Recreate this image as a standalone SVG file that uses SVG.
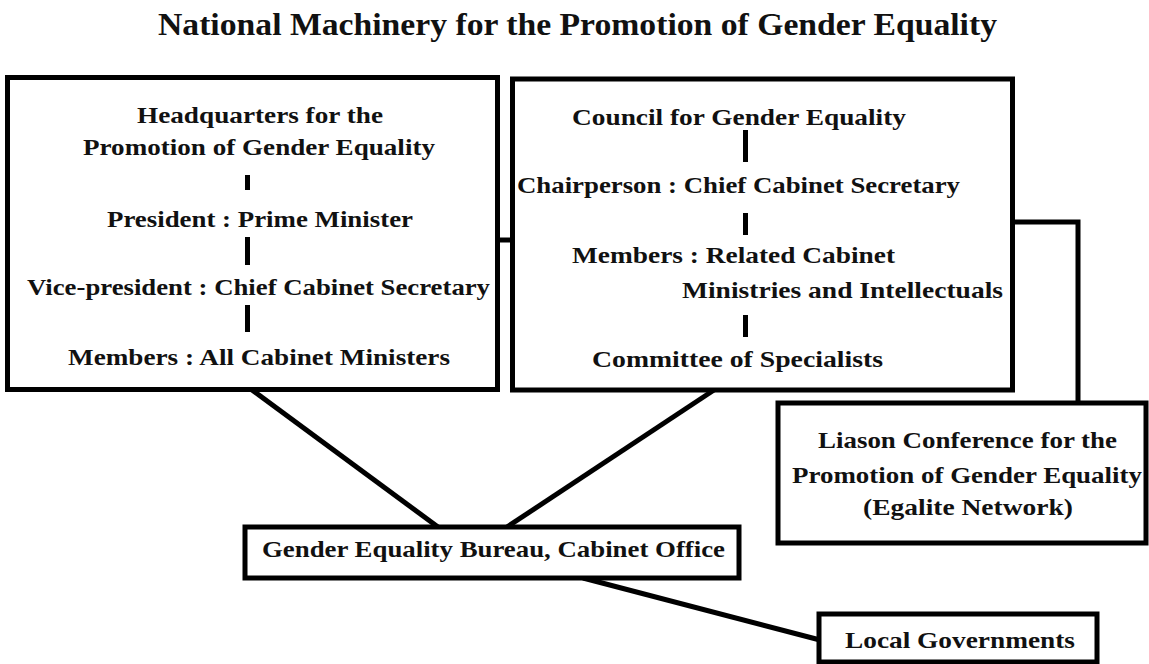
<svg xmlns="http://www.w3.org/2000/svg" width="1149" height="664" viewBox="0 0 1149 664">
  <style>
    .box { fill: #ffffff; stroke: #000000; stroke-width: 5; }
    .link { fill: none; stroke: #000000; stroke-width: 5; stroke-linecap: butt; stroke-linejoin: miter; }
    .bar { fill: #000000; }
    text { font-family: "Liberation Serif", "Times New Roman", serif; font-weight: bold; fill: #111111; }
    .t { font-size: 23px; }
    .title { font-size: 32px; }
  </style>
  <rect width="1149" height="664" fill="#ffffff"/>

  <text class="title" x="158" y="35" textLength="839" lengthAdjust="spacingAndGlyphs">National Machinery for the Promotion of Gender Equality</text>

  <!-- connectors -->
  <g id="connectors">
    <line class="link" x1="498" y1="240" x2="512" y2="240"/>
    <polyline class="link" points="1013,222 1078,222 1078,403"/>
    <line class="link" x1="252" y1="390" x2="438" y2="527"/>
    <line class="link" x1="714" y1="390" x2="507" y2="527"/>
    <line class="link" x1="583" y1="578" x2="820" y2="640"/>
  </g>

  <g id="headquarters">
    <rect class="box" x="7.5" y="77.5" width="490" height="312"/>
    <text class="t" x="137" y="123" textLength="246" lengthAdjust="spacingAndGlyphs">Headquarters for the</text>
    <text class="t" x="83" y="155" textLength="352" lengthAdjust="spacingAndGlyphs">Promotion of Gender Equality</text>
    <rect class="bar" x="245" y="175" width="5" height="15"/>
    <text class="t" x="107" y="227" textLength="306" lengthAdjust="spacingAndGlyphs">President : Prime Minister</text>
    <rect class="bar" x="245" y="237" width="5" height="28"/>
    <text class="t" x="27" y="295" textLength="463" lengthAdjust="spacingAndGlyphs">Vice-president : Chief Cabinet Secretary</text>
    <rect class="bar" x="245" y="305" width="5" height="27"/>
    <text class="t" x="68" y="365" textLength="382" lengthAdjust="spacingAndGlyphs">Members : All Cabinet Ministers</text>
  </g>

  <g id="council">
    <rect class="box" x="512.5" y="79" width="500" height="311"/>
    <text class="t" x="572" y="125" textLength="334" lengthAdjust="spacingAndGlyphs">Council for Gender Equality</text>
    <rect class="bar" x="743" y="130" width="5" height="32"/>
    <text class="t" x="517" y="193" textLength="443" lengthAdjust="spacingAndGlyphs">Chairperson : Chief Cabinet Secretary</text>
    <rect class="bar" x="743" y="213" width="5" height="22"/>
    <text class="t" x="572" y="263" textLength="323" lengthAdjust="spacingAndGlyphs">Members : Related Cabinet</text>
    <text class="t" x="682" y="298" textLength="321" lengthAdjust="spacingAndGlyphs">Ministries and Intellectuals</text>
    <rect class="bar" x="743" y="315" width="5" height="22"/>
    <text class="t" x="592" y="367" textLength="291" lengthAdjust="spacingAndGlyphs">Committee of Specialists</text>
  </g>

  <g id="liaison">
    <rect class="box" x="778" y="403" width="368" height="140"/>
    <text class="t" x="818" y="448" textLength="299" lengthAdjust="spacingAndGlyphs">Liason Conference for the</text>
    <text class="t" x="792" y="483" textLength="350" lengthAdjust="spacingAndGlyphs">Promotion of Gender Equality</text>
    <text class="t" x="863" y="515" textLength="210" lengthAdjust="spacingAndGlyphs">(Egalite Network)</text>
  </g>

  <g id="bureau">
    <rect class="box" x="245" y="527" width="494" height="51"/>
    <text class="t" x="262" y="557" textLength="463" lengthAdjust="spacingAndGlyphs">Gender Equality Bureau, Cabinet Office</text>
  </g>

  <g id="local-governments">
    <rect class="box" x="819" y="614" width="278" height="48"/>
    <text class="t" x="845" y="648" textLength="230" lengthAdjust="spacingAndGlyphs">Local Governments</text>
  </g>
</svg>
